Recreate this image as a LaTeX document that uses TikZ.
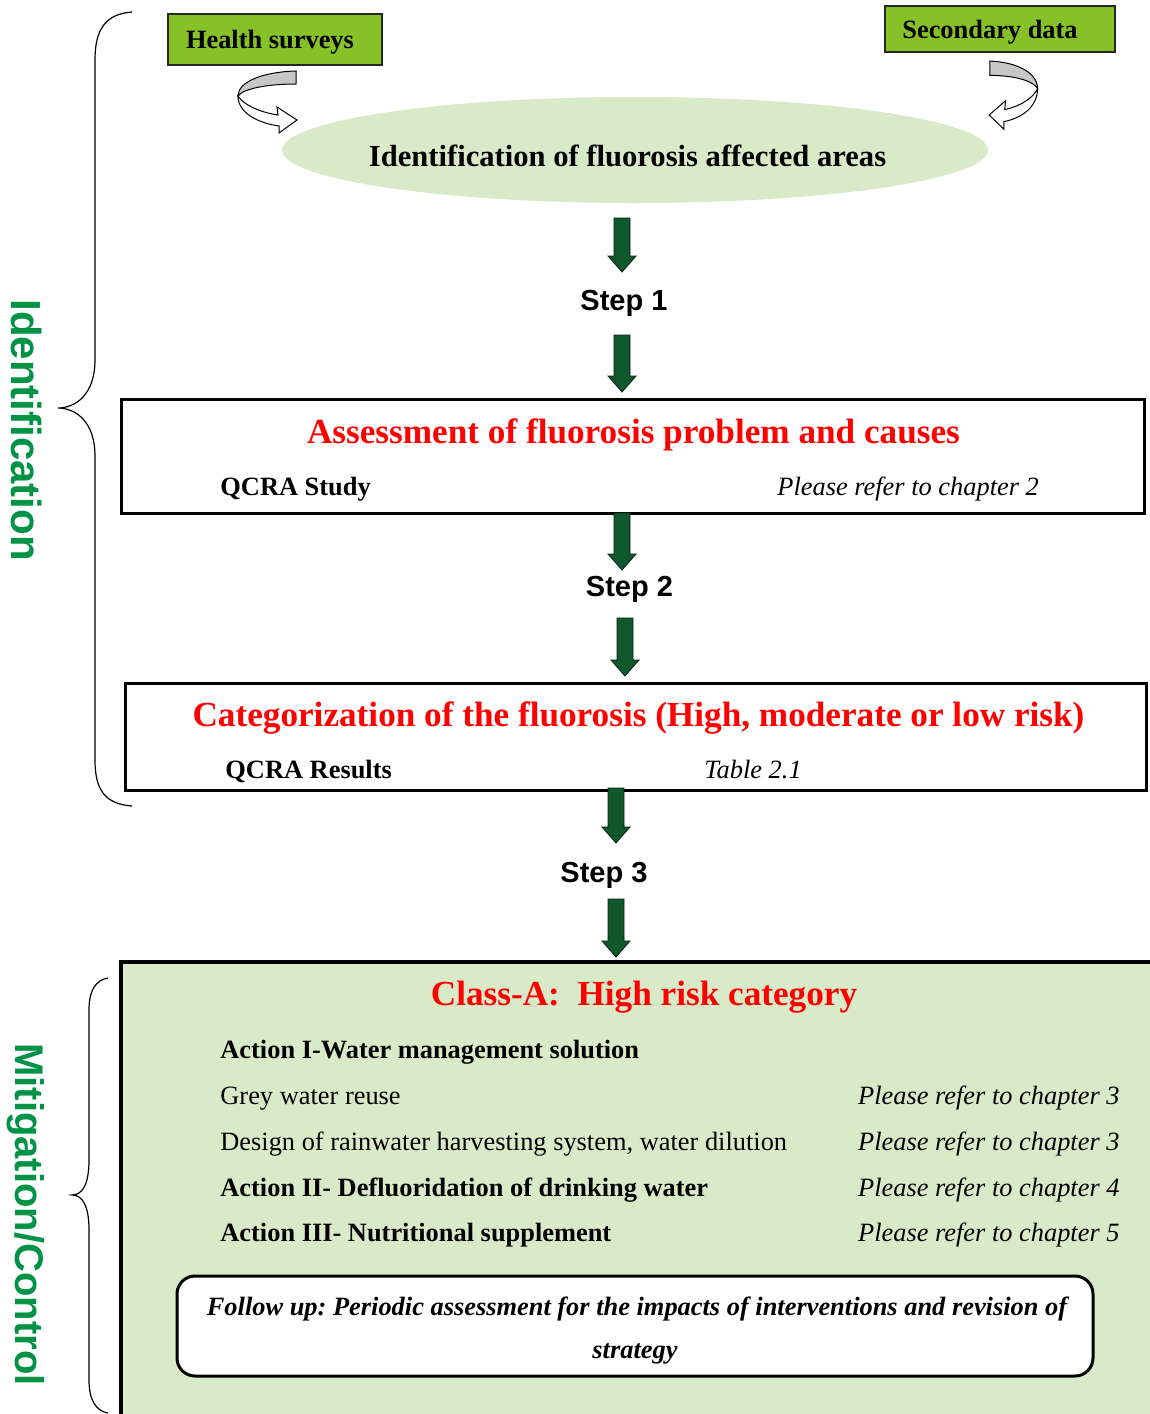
\documentclass[tikz,border=0pt]{standalone}
\usepackage{fontspec}
\setmainfont{Liberation Serif}
\newfontfamily\arialfont{Liberation Sans}
\usetikzlibrary{shapes.geometric}
\frenchspacing
\definecolor{hgreen}{RGB}{134,193,40}
\definecolor{lgreen}{RGB}{217,234,201}
\definecolor{agreen}{RGB}{14,88,44}
\definecolor{tgreen}{RGB}{0,146,69}
\definecolor{ared}{RGB}{255,0,0}
\newcommand\garrow[3]{\filldraw[fill=agreen, draw=black!60!agreen, line width=0.4pt] (#1-8,#2) -- (#1+8,#2) -- (#1+8,#3-16) -- (#1+14,#3-16) -- (#1,#3) -- (#1-14,#3-16) -- (#1-8,#3-16) -- cycle;}
\newcommand\curvearrow{%
  \filldraw[fill=black!22, draw=black, line width=0.5pt] (296,71) .. controls (262,72) and (238,82) .. (238,96) .. controls (243,89) and (266,84) .. (296,84) -- cycle;
  \filldraw[fill=white, draw=black, line width=0.5pt] (238,96) .. controls (238,113) and (258,123) .. (279,126) -- (279,133) -- (297,120) -- (277,107) -- (278,115) .. controls (258,112) and (243,104) .. (238,96) -- cycle;}
\begin{document}
\begin{tikzpicture}[x=0.5pt,y=-0.5pt,
  srcbox/.style={draw=black!85, line width=0.75pt, fill=hgreen, inner sep=0pt},
  srctext/.style={font=\fontsize{13.2}{16}\selectfont\bfseries, anchor=base, inner sep=0pt},
  frame/.style={draw=black, line width=1.5pt, inner sep=0pt},
  title/.style={font=\fontsize{17.6}{21}\selectfont\bfseries, text=ared, anchor=base, inner sep=0pt},
  steptext/.style={font=\arialfont\fontsize{14.5}{17}\selectfont\bfseries, anchor=base, inner sep=0pt},
  body/.style={font=\fontsize{13.2}{16}\selectfont, anchor=base west, inner sep=0pt},
  bodyb/.style={font=\fontsize{13.2}{16}\selectfont\bfseries, anchor=base west, inner sep=0pt},
  bodyi/.style={font=\fontsize{13.2}{16}\selectfont\itshape, anchor=base east, inner sep=0pt},
  fup/.style={font=\fontsize{13.2}{16}\selectfont\bfseries\itshape, anchor=base, inner sep=0pt},
  side/.style={font=\arialfont\bfseries, text=tgreen, rotate=-90, anchor=base, inner sep=0pt},
  brace/.style={draw=black, line width=0.6pt}]
\clip (0,0) rectangle (1150,1414);
\fill[white] (0,0) rectangle (1150,1414);

% source boxes
\node[srcbox, minimum width=107pt, minimum height=25.5pt] (hs) at (275,39.5) {};
\node[srctext] (hst) at (270,48) {Health surveys};
\node[srcbox, minimum width=115pt, minimum height=23pt] (sd) at (1000,29) {};
\node[srctext] (sdt) at (990,38) {Secondary data};

% ellipse
\node[ellipse, fill=lgreen, minimum width=353pt, minimum height=53pt, inner sep=0pt] (ell) at (635,150) {};
\node[srctext, font=\fontsize{15.3}{18}\selectfont\bfseries] (ellt) at (627.5,166) {Identification of fluorosis affected areas};

% curved arrows
\curvearrow
\begin{scope}[shift={(1232.7,-17)}, xscale=-0.82, yscale=1.1]
\curvearrow
\end{scope}

% step arrows and labels
\garrow{622}{218}{272}
\node[steptext] (s1) at (624,310) {Step 1};
\garrow{622}{335}{392}

% box 1
\node[frame, minimum width=511.5pt, minimum height=57pt] (b1) at (632.5,456) {};
\node[title] (b1t) at (633.5,443) {Assessment of fluorosis problem and causes};
\node[bodyb] (b1l) at (220,495) {QCRA Study};
\node[bodyi, anchor=base west] (b1r) at (777,495) {Please refer to chapter 2};

\garrow{622}{513}{570}
\node[steptext] (s2) at (629.5,596) {Step 2};
\garrow{625}{618}{676}

% box 2
\node[frame, minimum width=510.5pt, minimum height=53.5pt] (b2) at (635.5,736.5) {};
\node[title] (b2t) at (638.5,726) {Categorization of the fluorosis (High, moderate or low risk)};
\node[bodyb] (b2l) at (225,778) {QCRA Results};
\node[bodyi, anchor=base west] (b2r) at (704,778) {Table 2.1};

\garrow{616}{788}{843}
\node[steptext] (s3) at (604,882) {Step 3};
\garrow{616}{899}{957}

% class A box
\node[draw=black, line width=2pt, fill=lgreen, minimum width=519.5pt, minimum height=231.5pt, inner sep=0pt] (ca) at (640.5,1193.5) {};
\node[title] (cat) at (644,1005) {Class-A:\ \ High risk category};
\node[bodyb] (a1) at (220,1058) {Action I-Water management solution};
\node[body] (g1) at (220,1104) {Grey water reuse};
\node[bodyi] (g1r) at (1120,1104) {Please refer to chapter 3};
\node[body] (g2) at (220,1150) {Design of rainwater harvesting system, water dilution};
\node[bodyi] (g2r) at (1120,1150) {Please refer to chapter 3};
\node[bodyb] (a2) at (220,1196) {Action II- Defluoridation of drinking water};
\node[bodyi] (a2r) at (1120,1196) {Please refer to chapter 4};
\node[bodyb] (a3) at (220,1241) {Action III- Nutritional supplement};
\node[bodyi] (a3r) at (1120,1241) {Please refer to chapter 5};

% follow up
\node[draw=black, line width=1.5pt, fill=white, rounded corners=9pt, minimum width=458pt, minimum height=50pt, inner sep=0pt] (fu) at (635,1326) {};
\node[fup] (fu1) at (637,1315) {Follow up: Periodic assessment for the impacts of interventions and revision of};
\node[fup] (fu2) at (635,1358) {strategy};

% braces
\draw[brace] (132,12) .. controls (105,14) and (95,30) .. (95,60) -- (95,360) .. controls (95,395) and (75,408) .. (58,408) .. controls (75,408) and (95,421) .. (95,456) -- (95,760) .. controls (95,790) and (105,804) .. (132,806);
\draw[brace] (108,978) .. controls (96,980) and (89,990) .. (89,1010) -- (89,1160) .. controls (89,1185) and (82,1195) .. (72,1195) .. controls (82,1195) and (89,1205) .. (89,1230) -- (89,1380) .. controls (89,1400) and (96,1411) .. (108,1413);

% side labels
\node[side, font=\arialfont\fontsize{21}{24}\selectfont\bfseries] (idl) at (11,430) {Identification};
\node[side, font=\arialfont\fontsize{20}{24}\selectfont\bfseries] (mcl) at (15,1214.5) {Mitigation/Control};
\end{tikzpicture}
\end{document}
